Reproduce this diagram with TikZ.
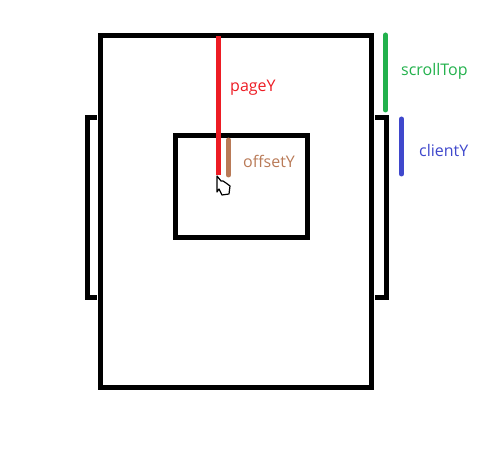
\documentclass[tikz,border=0pt]{standalone}
\usepackage{fontspec}
\usepackage{xcolor}
\usepackage{tikz}
\setmainfont{Open Sans}
\definecolor{pagered}{HTML}{ED1C24}
\definecolor{scrollgreen}{HTML}{22B14C}
\definecolor{clientblue}{HTML}{3F48CC}
\definecolor{offsetbrown}{HTML}{B97A57}
\tikzset{
	frameline/.style={draw=black,line width=5pt,miter limit=10},
	measure/.style={line width=5pt,line cap=round},
	lbl/.style={font=\fontsize{16}{18}\selectfont,inner sep=0pt,anchor=west},
}
\begin{document}
\begin{tikzpicture}[x=1pt,y=-1pt]
	\useasboundingbox (0,0) rectangle (493,465);
	\draw[frameline] (100.5,35.5) rectangle (371.5,387);
	\draw[frameline] (175.5,135.5) rectangle (307.5,237.5);
	\draw[frameline] (97,117.5) -- (87.5,117.5) -- (87.5,297.5) -- (97,297.5);
	\draw[frameline] (375,117.5) -- (386.5,117.5) -- (386.5,297.5) -- (375,297.5);
	\draw[line width=5pt,pagered] (218.5,36) -- (218.5,175);
	\draw[measure,offsetbrown] (228.5,140) -- (228.5,175);
	\draw[measure,scrollgreen] (385.5,35) -- (385.5,110);
	\draw[measure,clientblue] (401.5,119) -- (401.5,174);
	% mouse pointer
	\draw[fill=white,line width=1.2pt,line join=round] (217,176) -- (217,192) -- (219,189) -- (222,195) -- (229,194) -- (230,186) -- (226,183) -- (223,181) -- (221,181) -- cycle;
	\node[lbl,text=pagered] (pagey) at (230,87.5) {pageY};
	\node[lbl,text=offsetbrown] (offsety) at (243,161) {offsetY};
	\node[lbl,text=scrollgreen] (scrolltop) at (401,71) {scrollTop};
	\node[lbl,text=clientblue] (clienty) at (419,151) {clientY};
\end{tikzpicture}
\end{document}
